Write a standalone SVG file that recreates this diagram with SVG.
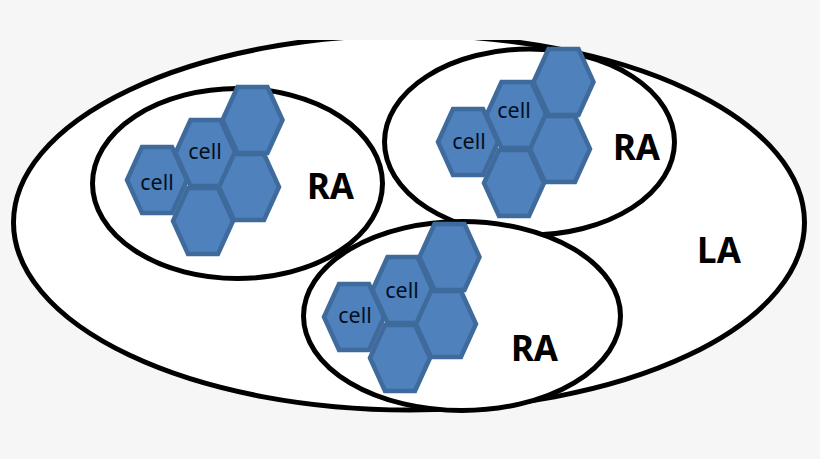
<svg xmlns="http://www.w3.org/2000/svg" width="820" height="459" viewBox="0 0 820 459">
<style>
.region{fill:#fff;stroke:#000;stroke-width:5}
.hex{fill:#4f81bd;stroke:#3f6a9c;stroke-width:4.500;stroke-linejoin:miter}
.cell{font-family:"Noto Sans","Liberation Sans",sans-serif;font-size:21.500px;fill:#04101e;text-anchor:middle}
.lab{font-family:"Noto Sans","Liberation Sans",sans-serif;font-size:35px;font-weight:700;fill:#000;text-anchor:middle}
</style>
<defs>
<clipPath id="crop"><rect x="0" y="40" width="820" height="419"/></clipPath>
<polygon id="h" class="hex" points="-30,0 -15,-33 15,-33 30,0 15,33 -15,33"/>
<g id="cluster">
<use href="#h" x="157" y="180"/>
<use href="#h" x="203" y="221"/>
<use href="#h" x="205.500" y="153"/>
<use href="#h" x="249" y="187"/>
<use href="#h" x="252.500" y="120"/>
</g>
</defs>
<rect width="820" height="459" fill="#f6f6f6"/>
<g id="LA" clip-path="url(#crop)">
<ellipse class="region" cx="409" cy="222.500" rx="395.500" ry="187.500"/>
</g>
<text class="lab" x="719" y="263">LA</text>
<g id="RA1">
<ellipse class="region" cx="237.500" cy="183.500" rx="145" ry="95"/>
<use href="#cluster"/>
<text class="cell" x="157" y="190">cell</text>
<text class="cell" x="205" y="159">cell</text>
<text class="lab" x="330.500" y="199">RA</text>
</g>
<g id="RA2">
<ellipse class="region" cx="529.500" cy="142" rx="145" ry="93"/>
<use href="#cluster" x="311" y="-38"/>
<text class="cell" x="469" y="149">cell</text>
<text class="cell" x="514" y="118">cell</text>
<text class="lab" x="636.500" y="160">RA</text>
</g>
<g id="RA3">
<ellipse class="region" cx="462" cy="316" rx="158.500" ry="94.500"/>
<use href="#cluster" x="197" y="137"/>
<text class="cell" x="355" y="323">cell</text>
<text class="cell" x="402" y="298">cell</text>
<text class="lab" x="534.500" y="361">RA</text>
</g>
</svg>
